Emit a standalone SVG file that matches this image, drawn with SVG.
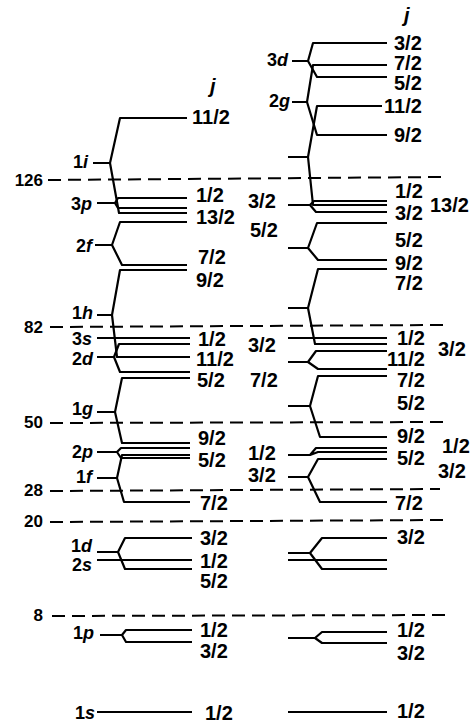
<svg xmlns="http://www.w3.org/2000/svg" width="472" height="723" viewBox="0 0 472 723">
<style>
.ln{fill:none;stroke:#000;stroke-width:2.2;stroke-linejoin:round}
.dash{fill:none;stroke:#000;stroke-width:2;stroke-dasharray:13 7}
text{font-family:"Liberation Sans",Arial,sans-serif;font-weight:bold;fill:#000}
.j{font-size:20px}
.orb{font-size:18px;text-anchor:end}
.mag{font-size:17px;text-anchor:end}
.it{font-style:italic}
</style>
<rect width="472" height="723" fill="#fff"/>
<g id="shell-gaps">
<path class="dash" d="M48,180 L443,177"/>
<path class="dash" d="M50,327 L443,325"/>
<path class="dash" d="M50,423 L443,422"/>
<path class="dash" d="M50,491 L440,489"/>
<path class="dash" d="M50,522 L447,520"/>
<path class="dash" d="M52,616 L447,615"/>
<text class="mag" x="43" y="186">126</text>
<text class="mag" x="43" y="333">82</text>
<text class="mag" x="43" y="428">50</text>
<text class="mag" x="43" y="496">28</text>
<text class="mag" x="43" y="527">20</text>
<text class="mag" x="43" y="621">8</text>
</g>
<g id="headers">
<text class="j it" x="210" y="93">j</text>
<text class="j it" x="404" y="22">j</text>
</g>
<!-- left column -->
<g id="L-1i">
<text class="orb" x="88" y="168">1<tspan class="it">i</tspan></text>
<path class="ln" d="M93,163 H110 L120,118 H187 M110,163 L119,213 H187"/>
<text class="j" x="192" y="124">11/2</text>
<text class="j" x="196" y="224">13/2</text>
</g>
<g id="L-3p">
<text class="orb" x="92" y="210">3<tspan class="it">p</tspan></text>
<path class="ln" d="M97,203 H115 L118,198 H187 M115,203 L118,208 H187"/>
<text class="j" x="196" y="202">1/2</text>
</g>
<g id="L-2f">
<text class="orb" x="92" y="252">2<tspan class="it">f</tspan></text>
<path class="ln" d="M95,245 H112 L120,222 H187 M112,245 L122,265 H187"/>
<text class="j" x="198" y="264">7/2</text>
</g>
<g id="L-1h">
<text class="orb" x="93" y="319">1<tspan class="it">h</tspan></text>
<path class="ln" d="M97,315 H112 L120,270 H187 M112,315 L117,357 H190"/>
<text class="j" x="196" y="287">9/2</text>
<text class="j" x="196" y="366">11/2</text>
</g>
<g id="L-3s">
<text class="orb" x="92" y="345">3<tspan class="it">s</tspan></text>
<path class="ln" d="M97,338 H190"/>
<text class="j" x="198" y="346">1/2</text>
</g>
<g id="L-2d">
<text class="orb" x="93" y="365">2<tspan class="it">d</tspan></text>
<path class="ln" d="M97,357 H114 L119,344 H190 M114,357 L120,372 H190"/>
</g>
<g id="L-1g">
<text class="orb" x="93" y="415">1<tspan class="it">g</tspan></text>
<path class="ln" d="M97,412 H115 L122,378 H190 M115,412 L122,443 H190"/>
<text class="j" x="197" y="387">5/2</text>
<text class="j" x="198" y="445">9/2</text>
</g>
<g id="L-2p">
<text class="orb" x="93" y="458">2<tspan class="it">p</tspan></text>
<path class="ln" d="M97,452 H117 L121,448 H190 M117,452 L121,458 H190"/>
<text class="j" x="198" y="467">5/2</text>
</g>
<g id="L-1f">
<text class="orb" x="92" y="483">1<tspan class="it">f</tspan></text>
<path class="ln" d="M97,478 H117 L122,455 H190 M117,478 L124,502 H190"/>
<text class="j" x="200" y="510">7/2</text>
</g>
<g id="L-1d">
<text class="orb" x="92" y="552">1<tspan class="it">d</tspan></text>
<path class="ln" d="M97,552 H118 L125,538 H192 M118,552 L125,569 H192"/>
<text class="j" x="200" y="545">3/2</text>
<text class="j" x="200" y="588">5/2</text>
</g>
<g id="L-2s">
<text class="orb" x="92" y="571">2<tspan class="it">s</tspan></text>
<path class="ln" d="M97,560 H192"/>
<text class="j" x="200" y="568">1/2</text>
</g>
<g id="L-1p">
<text class="orb" x="94" y="639">1<tspan class="it">p</tspan></text>
<path class="ln" d="M100,635 H122 L126,630 H192 M122,635 L126,642 H192"/>
<text class="j" x="200" y="637">1/2</text>
<text class="j" x="200" y="658">3/2</text>
</g>
<g id="L-1s">
<text class="orb" x="95" y="719">1<tspan class="it">s</tspan></text>
<path class="ln" d="M97,712 H192"/>
<text class="j" x="205" y="720">1/2</text>
</g>
<!-- right column -->
<g id="R-3d">
<text class="orb" x="288" y="66">3<tspan class="it">d</tspan></text>
<path class="ln" d="M292,61 H308 L313,43 H387 M308,61 L317,77 H387"/>
<text class="j" x="394" y="50">3/2</text>
<text class="j" x="394" y="90">5/2</text>
</g>
<g id="R-2g">
<text class="orb" x="290" y="107">2<tspan class="it">g</tspan></text>
<path class="ln" d="M292,102 H307 L313,65 H387 M307,102 L317,135 H387"/>
<text class="j" x="394" y="70">7/2</text>
<text class="j" x="394" y="142">9/2</text>
</g>
<g id="R-1j">
<path class="ln" d="M288,157 H308 L317,106 H382 M308,157 L313,205 H387"/>
<text class="j" x="384" y="113">11/2</text>
<text class="j" x="430" y="212">13/2</text>
</g>
<g id="R-3p">
<text class="j" x="248" y="208">3/2</text>
<path class="ln" d="M288,205 H310 L314,201 H387 M310,205 L316,212 H387"/>
<text class="j" x="395" y="198">1/2</text>
<text class="j" x="395" y="220">3/2</text>
</g>
<g id="R-2f">
<text class="j" x="250" y="237">5/2</text>
<path class="ln" d="M288,248 H308 L317,223 H387 M308,248 L318,260 H387"/>
<text class="j" x="395" y="247">5/2</text>
<text class="j" x="395" y="290">7/2</text>
</g>
<g id="R-1h">
<path class="ln" d="M288,308 H308 L318,269 H387 M308,308 L315,344 H387"/>
<text class="j" x="395" y="270">9/2</text>
<text class="j" x="387" y="366">11/2</text>
</g>
<g id="R-3s">
<text class="j" x="248" y="352">3/2</text>
<path class="ln" d="M288,338 H387"/>
<text class="j" x="397" y="345">1/2</text>
</g>
<g id="R-2d">
<text class="j" x="250" y="387">7/2</text>
<path class="ln" d="M288,362 H308 L316,351 H387 M308,362 L318,369 H387"/>
<text class="j" x="438" y="356">3/2</text>
</g>
<g id="R-1g">
<path class="ln" d="M288,406 H310 L318,376 H387 M310,406 L320,437 H387"/>
<text class="j" x="397" y="387">7/2</text>
<text class="j" x="397" y="410">5/2</text>
<text class="j" x="397" y="443">9/2</text>
</g>
<g id="R-2p">
<text class="j" x="248" y="460">1/2</text>
<path class="ln" d="M288,455 H310 L316,448 H387 M310,455 L318,452 H387"/>
<text class="j" x="397" y="465">5/2</text>
<text class="j" x="442" y="453">1/2</text>
</g>
<g id="R-1f">
<text class="j" x="248" y="482">3/2</text>
<path class="ln" d="M288,477 H308 L318,459 H387 M308,477 L320,502 H387"/>
<text class="j" x="395" y="510">7/2</text>
<text class="j" x="438" y="478">3/2</text>
</g>
<g id="R-1d">
<path class="ln" d="M288,553 H310 L322,538 H387 M310,553 L322,569 H387"/>
<text class="j" x="397" y="544">3/2</text>
</g>
<g id="R-2s">
<path class="ln" d="M288,560 H387"/>
</g>
<g id="R-1p">
<path class="ln" d="M288,638 H315 L322,632 H387 M315,638 L322,643 H387"/>
<text class="j" x="397" y="637">1/2</text>
<text class="j" x="397" y="660">3/2</text>
</g>
<g id="R-1s">
<path class="ln" d="M288,712 H387"/>
<text class="j" x="397" y="718">1/2</text>
</g>
</svg>
